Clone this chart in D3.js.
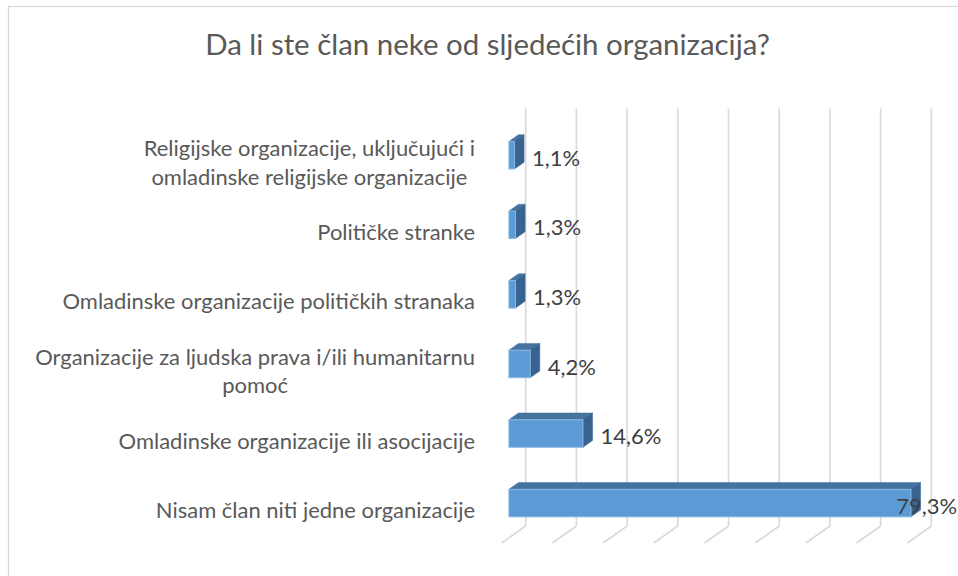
<!DOCTYPE html>
<html>
<head>
<meta charset="utf-8">
<script src="https://cdn.jsdelivr.net/npm/d3@7"></script>
<style>
  html, body { margin: 0; padding: 0; background: #fff; }
  svg { display: block; }
  text { font-family: Lato, "Open Sans", sans-serif; }
</style>
</head>
<body>
<svg id="chart" width="958" height="576"></svg>
<script>
// ---- data ----
const title = "Da li ste član neke od sljedećih organizacija?";
const categories = [
  "Religijske organizacije, uključujući i\nomladinske religijske organizacije",
  "Političke stranke",
  "Omladinske organizacije političkih stranaka",
  "Organizacije za ljudska prava i/ili humanitarnu\npomoć",
  "Omladinske organizacije ili asocijacije",
  "Nisam član niti jedne organizacije"
];
const values = [1.1, 1.3, 1.3, 4.2, 14.6, 79.3];
const xTicks = [0, 10, 20, 30, 40, 50, 60, 70, 80];

// ---- layout ----
const W = 958, H = 576;
const DX = 24, DY = -17;          // depth vector (front -> back)
const D0 = 0.3, D1 = 0.7;         // bar depth range
const svg = d3.select("#chart");

const x = d3.scaleLinear().domain([0, 80]).range([501.7, 501.7 + 405.6]);
const y = d3.scaleBand().domain(categories).range([125.5, 543]);
const barHalf = 13.75;
const locale = d3.formatLocale({decimal: ",", thousands: ".", grouping: [3], currency: ["", ""]});
const fmt = v => locale.format(".1f")(v) + "%";

// chart border
svg.append("rect").attr("x", 8.5).attr("y", 6.5).attr("width", 1000).attr("height", 700)
  .attr("fill", "none").attr("stroke", "#D9D9D9").attr("stroke-width", 1.3);

// font fitting helper
function fitSize(str, target) {
  const t = svg.append("text").attr("font-size", 100).text(str);
  const w = t.node().getComputedTextLength();
  t.remove();
  return 100 * target / w;
}
const titleSize = fitSize(title, 565);
const labelSize = fitSize("Organizacije za ljudska prava i/ili humanitarnu", 440);

// title
svg.append("text").attr("x", 487.5).attr("y", 55).attr("text-anchor", "middle")
  .attr("font-size", titleSize).attr("fill", "#595959").text(title);

// back-wall gridlines and floor lines
const yTop = y.range()[0], yBot = y.range()[1];
const grid = svg.append("g").attr("stroke", "#D9D9D9").attr("stroke-width", 1.6).attr("fill", "none");
grid.selectAll("line.v").data(xTicks).join("line").attr("class", "v")
  .attr("x1", d => x(d) + DX).attr("x2", d => x(d) + DX)
  .attr("y1", yTop + DY).attr("y2", yBot + DY);
grid.selectAll("line.f").data(xTicks).join("line").attr("class", "f")
  .attr("x1", d => x(d) + DX).attr("x2", d => x(d))
  .attr("y1", yBot + DY).attr("y2", yBot);

// bars
const bars = svg.append("g");
categories.forEach((c, i) => {
  const v = values[i];
  const cy = y(c) + y.bandwidth() / 2;
  const fx0 = x(0) + DX * D0, fx1 = x(v) + DX * D0;
  const ft = cy - barHalf + DY * D0, fb = cy + barHalf + DY * D0;
  const ddx = DX * (D1 - D0), ddy = DY * (D1 - D0);
  const g = bars.append("g");
  g.append("polygon").attr("points", [[fx0, ft], [fx1, ft], [fx1 + ddx, ft + ddy], [fx0 + ddx, ft + ddy]].join(" "))
    .attr("fill", "#44739F").attr("stroke", "#44739F").attr("stroke-width", 0.5);
  g.append("polygon").attr("points", [[fx1, ft], [fx1 + ddx, ft + ddy], [fx1 + ddx, fb + ddy], [fx1, fb]].join(" "))
    .attr("fill", "#386390").attr("stroke", "#386390").attr("stroke-width", 0.5);
  g.append("rect").attr("x", fx0).attr("y", ft).attr("width", fx1 - fx0).attr("height", fb - ft)
    .attr("fill", "#5B9BD5").attr("stroke", "#8DB8E3").attr("stroke-width", 1);
});

// data labels
const dl = svg.append("g").attr("font-size", labelSize).attr("fill", "#404040");
categories.forEach((c, i) => {
  const cy = y(c) + y.bandwidth() / 2;
  const t = dl.append("text").attr("y", cy + 5.5).text(fmt(values[i]));
  const w = t.node().getComputedTextLength();
  const xn = x(values[i]) + DX * D1 + 8;
  t.attr("x", Math.min(xn, W - 1 - w));
});

// category labels (right-aligned block, centered lines)
const cl = svg.append("g").attr("font-size", labelSize).attr("fill", "#595959");
const blockRight = 475, lineH = 28.5;
categories.forEach(c => {
  const lines = c.split("\n");
  const cy = y(c) + y.bandwidth() / 2;
  const g = cl.append("g");
  const ts = lines.map((ln, k) => g.append("text")
    .attr("y", cy + 10 + (k - (lines.length - 1) / 2) * lineH)
    .attr("text-anchor", "middle").text(ln));
  const maxW = d3.max(ts, t => t.node().getComputedTextLength());
  ts.forEach(t => t.attr("x", blockRight - maxW / 2));
});
</script>
</body>
</html>
